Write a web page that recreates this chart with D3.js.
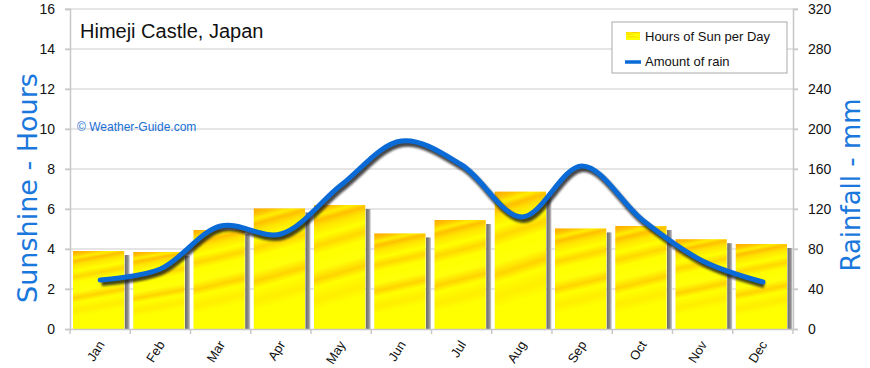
<!DOCTYPE html>
<html>
<head>
<meta charset="utf-8">
<script src="https://cdn.jsdelivr.net/npm/d3@7"></script>
<style>
  body { margin: 0; background: #fff; }
  text { font-family: "Liberation Sans", Arial, sans-serif; }
  .axis-title { font-family: "DejaVu Sans", sans-serif; }
</style>
</head>
<body>
<div class="chart"></div>
<script>
// data
const months = ["Jan","Feb","Mar","Apr","May","Jun","Jul","Aug","Sep","Oct","Nov","Dec"]
const sunHours = [3.9, 3.85, 4.95, 6.03, 6.2, 4.78, 5.45, 6.87, 5.03, 5.15, 4.49, 4.25]
const rainMm = [49, 60, 103, 95, 144, 188, 164, 112, 163, 109, 68, 47]
const sunTicks = [0, 2, 4, 6, 8, 10, 12, 14, 16]
const rainTicks = [0, 40, 80, 120, 160, 200, 240, 280, 320]

const width = 870, height = 368
const margin = {top: 9, right: 77, bottom: 39, left: 70}
const innerW = width - margin.left - margin.right
const innerH = height - margin.top - margin.bottom

const svg = d3.select(".chart").append("svg")
    .attr("width", width)
    .attr("height", height)

const defs = svg.append("defs")

// sunny yellow fill with orange streaks
const grad = defs.append("linearGradient")
    .attr("id", "sun")
    .attr("x1", "0").attr("y1", "0")
    .attr("x2", "0.12").attr("y2", "1")
const stops = [
  [0, "#ffa800"], [0.05, "#ffc400"], [0.09, "#ffee00"], [0.13, "#ffc000"],
  [0.18, "#ffe400"], [0.26, "#ffff00"], [0.33, "#ffd800"], [0.4, "#ffff00"],
  [0.52, "#ffff08"], [0.6, "#ffd400"], [0.66, "#ffff00"], [0.76, "#ffee00"],
  [0.84, "#ffff00"], [1, "#ffff00"]
]
stops.forEach(s => grad.append("stop").attr("offset", s[0]).attr("stop-color", s[1]))

const shade = defs.append("linearGradient").attr("id", "shade")
shade.append("stop").attr("offset", 0).attr("stop-color", "#6a6a6a")
shade.append("stop").attr("offset", 0.6).attr("stop-color", "#8c8c8c")
shade.append("stop").attr("offset", 1).attr("stop-color", "#d0d0d0")

const blur = defs.append("filter").attr("id", "blur")
    .attr("x", "-5%").attr("y", "-20%").attr("width", "110%").attr("height", "140%")
blur.append("feGaussianBlur").attr("stdDeviation", 1.2)

const bounds = svg.append("g")
    .attr("transform", `translate(${margin.left},${margin.top})`)

// scales
const xScale = d3.scaleBand()
    .domain(months)
    .range([0, innerW])
    .paddingInner(0)

const ySun = d3.scaleLinear().domain([0, 16]).range([innerH, 0])
const yRain = d3.scaleLinear().domain([0, 320]).range([innerH, 0])

// grid
bounds.append("g")
  .selectAll("line")
  .data(sunTicks.slice(1))
  .join("line")
    .attr("x1", -5).attr("x2", innerW + 5)
    .attr("y1", d => ySun(d)).attr("y2", d => ySun(d))
    .attr("stroke", "#dcdcdc")
    .attr("stroke-width", 1.5)

// axes
const leftAxis = d3.axisLeft(ySun).tickValues(sunTicks).tickSize(5).tickPadding(10)
const rightAxis = d3.axisRight(yRain).tickValues(rainTicks).tickSize(5).tickPadding(10)
const bottomAxis = d3.axisBottom(xScale).tickSize(0).tickPadding(0)

function styleAxis(g) {
  g.select(".domain").attr("stroke", "#c8c8c8").attr("stroke-width", 1.5)
  g.selectAll(".tick line").attr("stroke", "#c8c8c8").attr("stroke-width", 1.5)
  g.selectAll("text").attr("fill", "#111").style("font-size", "14px")
}

bounds.append("g").call(leftAxis).call(styleAxis)
bounds.append("g").attr("transform", `translate(${innerW},0)`).call(rightAxis).call(styleAxis)

// bars with grey side shadow
const barGap = 3, shadowW = 5
const bars = bounds.append("g")
bars.selectAll(".shadow")
  .data(sunHours)
  .join("rect")
    .attr("class", "shadow")
    .attr("x", (d, i) => xScale(months[i]) + xScale.bandwidth() - shadowW - 0.5)
    .attr("y", d => ySun(d) + 4)
    .attr("width", shadowW)
    .attr("height", d => innerH - ySun(d) - 4)
    .attr("fill", "url(#shade)")
bars.selectAll(".bar")
  .data(sunHours)
  .join("rect")
    .attr("class", "bar")
    .attr("x", (d, i) => xScale(months[i]) + barGap)
    .attr("y", d => ySun(d))
    .attr("width", xScale.bandwidth() - barGap - shadowW - 1)
    .attr("height", d => innerH - ySun(d))
    .attr("fill", "url(#sun)")

// x axis drawn over bars
const xg = bounds.append("g").attr("transform", `translate(0,${innerH})`).call(bottomAxis)
xg.select(".domain").attr("stroke", "#c8c8c8").attr("stroke-width", 1.5)
xg.selectAll(".tick text")
    .attr("transform", "translate(1,13) rotate(-58)")
    .attr("text-anchor", "end")
    .attr("dy", "0.35em")
    .attr("fill", "#111")
    .style("font-size", "13px")
xg.append("g").selectAll("line")
  .data(d3.range(13))
  .join("line")
    .attr("x1", i => i * xScale.step()).attr("x2", i => i * xScale.step())
    .attr("y1", 0).attr("y2", 5)
    .attr("stroke", "#c8c8c8").attr("stroke-width", 1.5)

// rain line
const line = d3.line()
    .x((d, i) => xScale(months[i]) + xScale.bandwidth() / 2)
    .y(d => yRain(d))
    .curve(d3.curveCatmullRom.alpha(0.5))

bounds.append("path")
    .datum(rainMm)
    .attr("d", line)
    .attr("transform", "translate(1.5,3)")
    .attr("fill", "none")
    .attr("stroke", "#1a1a1a")
    .attr("stroke-opacity", 0.8)
    .attr("stroke-width", 6)
    .attr("filter", "url(#blur)")

bounds.append("path")
    .datum(rainMm)
    .attr("d", line)
    .attr("fill", "none")
    .attr("stroke", "#0a6ad6")
    .attr("stroke-width", 5)
    .attr("stroke-linecap", "round")

// titles
svg.append("text")
    .attr("x", 80).attr("y", 38)
    .attr("fill", "#111")
    .style("font-size", "20px")
    .text("Himeji Castle, Japan")

svg.append("text")
    .attr("x", 77).attr("y", 131)
    .attr("fill", "#1a6fd6")
    .style("font-size", "12px")
    .text("© Weather-Guide.com")

svg.append("text")
    .attr("class", "axis-title")
    .attr("transform", "translate(37,188) rotate(-90)")
    .attr("text-anchor", "middle")
    .attr("fill", "#1a78dc")
    .style("font-size", "27px")
    .text("Sunshine - Hours")

svg.append("text")
    .attr("class", "axis-title")
    .attr("transform", "translate(860,185) rotate(-90)")
    .attr("text-anchor", "middle")
    .attr("fill", "#1a78dc")
    .style("font-size", "26px")
    .text("Rainfall - mm")

// legend
const legend = svg.append("g").attr("transform", "translate(612,22)")
legend.append("rect")
    .attr("width", 175).attr("height", 51)
    .attr("fill", "#fff")
    .attr("stroke", "#aaa")
legend.append("rect")
    .attr("x", 14).attr("y", 10).attr("width", 14).attr("height", 8)
    .attr("fill", "url(#sun)")
legend.append("text")
    .attr("x", 33).attr("y", 19)
    .attr("fill", "#111")
    .style("font-size", "13px")
    .text("Hours of Sun per Day")
legend.append("line")
    .attr("x1", 13).attr("x2", 29).attr("y1", 40).attr("y2", 40)
    .attr("stroke", "#0a6ad6").attr("stroke-width", 3.5)
legend.append("text")
    .attr("x", 33).attr("y", 44)
    .attr("fill", "#111")
    .style("font-size", "13px")
    .text("Amount of rain")
</script>
</body>
</html>
